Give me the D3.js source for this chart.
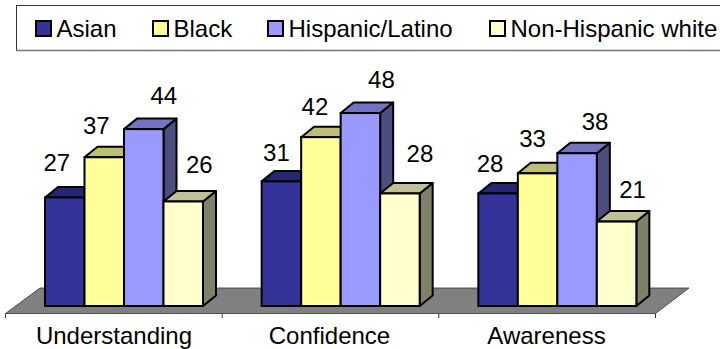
<!DOCTYPE html>
<html>
<head>
<meta charset="utf-8">
<script src="https://cdn.jsdelivr.net/npm/d3@7"></script>
<style>
  html, body { margin: 0; padding: 0; background: #fff; }
  svg { display: block; }
  text { font-family: "Liberation Sans", Arial, sans-serif; fill: #000; }
</style>
</head>
<body>
<svg id="chart" width="720" height="349"></svg>
<script>
const categories = ["Understanding", "Confidence", "Awareness"];
const seriesNames = ["Asian", "Black", "Hispanic/Latino", "Non-Hispanic white"];
const asian = [27, 31, 28];
const black = [37, 42, 33];
const hispanic = [44, 48, 38];
const white = [26, 28, 21];
const seriesValues = [asian, black, hispanic, white];

// Face shades per series: front, top, side.
const frontColors = ["#333399", "#FFFF99", "#9999FF", "#FFFFCC"];
const topColors = ["#262673", "#BFBF73", "#7373BF", "#BFBF99"];
const sideColors = ["#1A1A4D", "#808040", "#4D4D80", "#808066"];

// Hand placement of value labels relative to each bar's top centre: [dx, baseline dy].
const labelOffsets = [
  [[-8, -26], [-8, -23], [20, -25], [16, -28]],
  [[-5, -20], [-6, -22], [21, -25], [20, -31]],
  [[-8, -21], [-5, -26], [18, -23], [16, -24]]
];
const legendSwatchX = [35, 152, 267, 489];
const categoryLabelX = [114, 329.5, 546.5];
const fontSize = 24;

const depthX = 13, depthY = -10.5;
const svg = d3.select("#chart");

const x0 = d3.scaleBand().domain(categories).range([5.5, 655.5]);
const x1 = d3.scaleBand().domain(seriesNames).range([39.5, 197.5]);
const y = d3.scaleLinear().domain([0, 50]).range([306, 105]);

// Legend frame: thin dark top and left, heavier grey bottom
svg.append("rect")
  .attr("x", 16.5).attr("y", 5.5).attr("width", 720).attr("height", 45)
  .attr("fill", "#fff").attr("stroke", "#333").attr("stroke-width", 1);
svg.append("line")
  .attr("x1", 16).attr("x2", 720).attr("y1", 50.5).attr("y2", 50.5)
  .attr("stroke", "#777").attr("stroke-width", 1.5);

const legend = svg.append("g").selectAll("g").data(seriesNames).join("g")
  .attr("transform", (d, i) => `translate(${legendSwatchX[i]},0)`);
legend.append("rect")
  .attr("x", 1).attr("y", 21).attr("width", 15).attr("height", 15)
  .attr("fill", (d, i) => frontColors[i]).attr("stroke", "#000").attr("stroke-width", 2);
legend.append("text")
  .attr("x", 21.5).attr("y", 37)
  .attr("font-size", fontSize).text(d => d);

// Floor of the 3D plot
const floorFront = y(0) + 7.5, floorBack = y(0) - 18;
svg.append("path")
  .attr("d", `M${x0.range()[0]},${floorFront}L${x0.range()[0] + 34.5},${floorBack}L689,${floorBack}L${x0.range()[1]},${floorFront}Z`)
  .attr("fill", "#808080").attr("stroke", "#333").attr("stroke-width", 0.8);

// Category axis
const axis = svg.append("g");
const tickXs = categories.map(c => x0(c)).concat(x0.range()[1]);
axis.selectAll("line").data(tickXs).join("line")
  .attr("x1", d => d).attr("x2", d => d)
  .attr("y1", floorFront).attr("y2", floorFront + 4.5)
  .attr("stroke", "#333").attr("stroke-width", 1);
axis.selectAll("text").data(categories).join("text")
  .attr("x", (d, i) => categoryLabelX[i]).attr("y", 344)
  .attr("text-anchor", "middle").attr("font-size", fontSize).text(d => d);

// Bars, each made of side, top and front faces
categories.forEach((cat, c) => {
  const g = svg.append("g");
  seriesNames.forEach((name, s) => {
    const v = seriesValues[s][c];
    const left = x0(cat) + x1(name), w = x1.bandwidth();
    const right = left + w, top = y(v), base = y(0);
    g.append("path")
      .attr("d", `M${right},${top}L${right + depthX},${top + depthY}L${right + depthX},${base + depthY}L${right},${base}Z`)
      .attr("fill", sideColors[s]).attr("stroke", "#000").attr("stroke-width", 2).attr("stroke-linejoin", "round");
    g.append("path")
      .attr("d", `M${left},${top}L${left + depthX},${top + depthY}L${right + depthX},${top + depthY}L${right},${top}Z`)
      .attr("fill", topColors[s]).attr("stroke", "#000").attr("stroke-width", 2).attr("stroke-linejoin", "round");
    g.append("rect")
      .attr("x", left).attr("y", top).attr("width", w).attr("height", base - top)
      .attr("fill", frontColors[s]).attr("stroke", "#000").attr("stroke-width", 2);
  });
});

// Value labels sit above everything else
categories.forEach((cat, c) => {
  seriesNames.forEach((name, s) => {
    const v = seriesValues[s][c];
    const [dx, dy] = labelOffsets[c][s];
    svg.append("text")
      .attr("x", x0(cat) + x1(name) + x1.bandwidth() / 2 + dx)
      .attr("y", y(v) + dy)
      .attr("text-anchor", "middle").attr("font-size", fontSize).text(v);
  });
});
</script>
</body>
</html>
